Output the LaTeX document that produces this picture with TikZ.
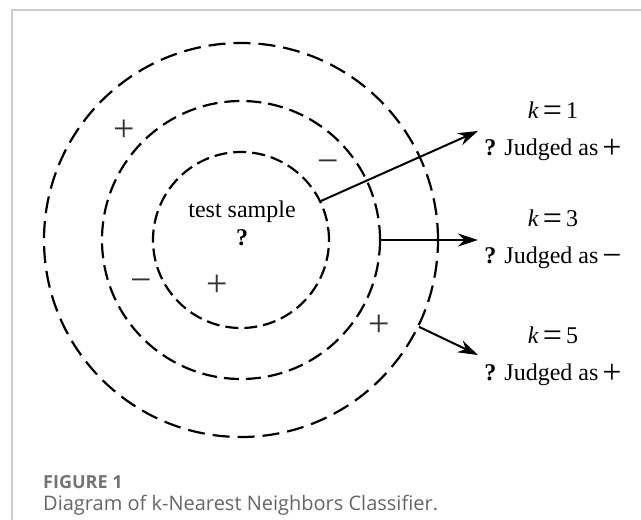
\documentclass[tikz,border=0pt]{standalone}
\usepackage{fontspec}
\setmainfont{Liberation Serif}
\newfontfamily\capfont{Open Sans}
\usetikzlibrary{arrows.meta}
\newcommand\bigsym[1]{\raisebox{-3pt}{\fontsize{34}{34}\selectfont #1}}
\begin{document}
\begin{tikzpicture}[x=1pt,y=-1pt,
  ring/.style={draw, line width=2.2pt, circle, inner sep=0pt, minimum size=#1},
  arr/.style={line width=2pt, -{Stealth[length=20pt,width=13pt]}},
  lbl/.style={font=\fontsize{24}{28}\selectfont, inner sep=0pt},
  sign/.style={font=\fontsize{38}{38}\selectfont, text=black!80, inner sep=0pt}]
\useasboundingbox (0,0) rectangle (641,520);
\draw[black!20, line width=1.6pt] (641,10) -- (12,10) -- (12,520);
% rings
\node[ring=394pt, dash pattern=on 17pt off 8pt] (outer) at (241,240) {};
\node[ring=278pt, dash pattern=on 15pt off 7pt] (middle) at (241,240) {};
\node[ring=176pt, dash pattern=on 13pt off 6pt] (inner) at (241,240) {};
% centre text
\node[lbl] (ts) at (242,212) {test sample};
\node[lbl] (q) at (242,238) {\textbf{?}};
% signs
\node[sign] (p1) at (124,131) {+};
\node[sign] (m1) at (328,167) {−};
\node[sign] (m2) at (141,286) {−};
\node[sign] (p2) at (217,286) {+};
\node[sign] (p3) at (379,326) {+};
% labels
\node[lbl] (k1) at (553,112) {\textit{k}\,\bigsym{=}\,1};
\node[lbl] (j1) at (553,150) {\textbf{?} Judged as\,\bigsym{+}};
\node[lbl] (k3) at (553,220) {\textit{k}\,\bigsym{=}\,3};
\node[lbl] (j3) at (553,258) {\textbf{?} Judged as\,\bigsym{−}};
\node[lbl] (k5) at (553,337) {\textit{k}\,\bigsym{=}\,5};
\node[lbl] (j5) at (553,375) {\textbf{?} Judged as\,\bigsym{+}};
% arrow tips
\coordinate (t1) at (478,131);
\coordinate (t3) at (478,240);
\coordinate (t5) at (478,355);
\draw[arr] (inner.26) -- (t1);
\draw[arr] (middle.east) -- (t3);
\draw[arr] (outer.-26) -- (t5);
% caption
\node[anchor=west, inner sep=0pt, font=\capfont\fontsize{18}{20}\selectfont\bfseries, text=black!55] (fig) at (43,482) {FIGURE 1};
\node[anchor=west, inner sep=0pt, font=\capfont\fontsize{20}{24}\selectfont, text=black!60] (cap) at (43,505) {Diagram of k-Nearest Neighbors Classifier.};
\end{tikzpicture}
\end{document}
